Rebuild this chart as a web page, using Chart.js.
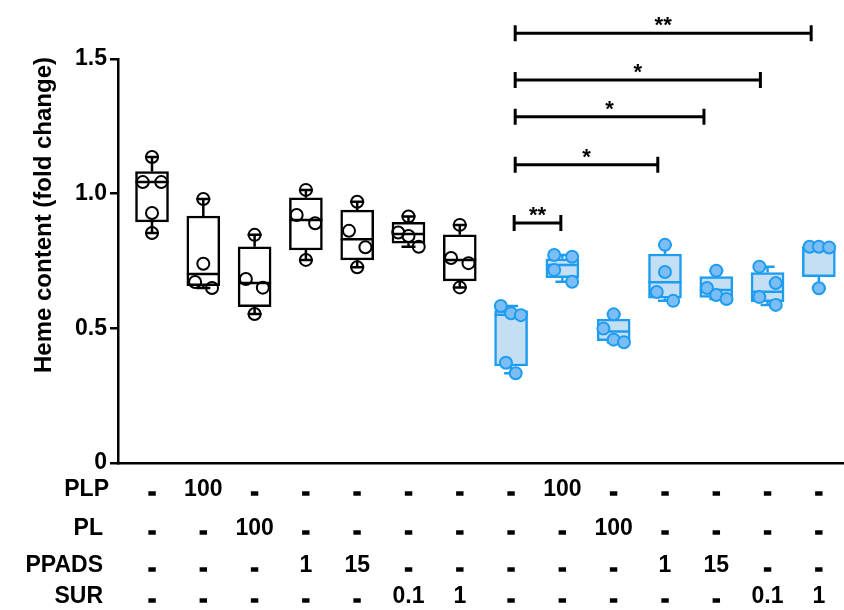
<!DOCTYPE html>
<html>
<head>
<meta charset="utf-8">
<script src="https://cdn.jsdelivr.net/npm/chart.js@4.4.1/dist/chart.umd.min.js"></script>
<style>
  html, body { margin: 0; padding: 0; background: #fff; }
</style>
</head>
<body>
<canvas id="chart-1" width="844" height="610"></canvas>
<script>
const FONT = "'Liberation Sans', Arial, Helvetica, sans-serif";

// one box per treatment group, numbered left to right
const groups = [1, 2, 3, 4, 5, 6, 7, 8, 9, 10, 11, 12, 13, 14];
const whiskerMin = [0.854, 0.650, 0.553, 0.754, 0.727, 0.803, 0.652, 0.333, 0.673, 0.448, 0.602, 0.609, 0.587, 0.649];
const quartile1 = [0.895, 0.658, 0.580, 0.791, 0.754, 0.816, 0.676, 0.360, 0.688, 0.454, 0.612, 0.615, 0.599, 0.692];
const medians = [1.043, 0.702, 0.668, 0.902, 0.831, 0.850, 0.754, 0.550, 0.735, 0.488, 0.671, 0.642, 0.636, 0.801];
const quartile3 = [1.082, 0.917, 0.803, 0.985, 0.939, 0.894, 0.847, 0.566, 0.758, 0.534, 0.776, 0.692, 0.707, 0.803];
const whiskerMax = [1.136, 0.980, 0.847, 1.014, 0.970, 0.915, 0.884, 0.583, 0.772, 0.552, 0.810, 0.714, 0.729, 0.803];

// individual measurements per group
const pointValues = [
  [1.136, 1.043, 1.043, 0.928, 0.854],
  [0.980, 0.740, 0.672, 0.650],
  [0.847, 0.683, 0.651, 0.553],
  [1.014, 0.921, 0.890, 0.754],
  [0.970, 0.862, 0.801, 0.727],
  [0.915, 0.856, 0.843, 0.803],
  [0.884, 0.761, 0.742, 0.652],
  [0.583, 0.556, 0.549, 0.372, 0.333],
  [0.772, 0.766, 0.717, 0.673],
  [0.552, 0.499, 0.458, 0.448],
  [0.810, 0.709, 0.635, 0.602],
  [0.714, 0.650, 0.624, 0.609],
  [0.729, 0.668, 0.616, 0.587],
  [0.803, 0.803, 0.800, 0.649],
];
// horizontal spread of the points inside a box (in group units)
const pointJitter = [
  [0, -0.18, 0.18, 0, 0],
  [0, 0, -0.16, 0.17],
  [0, -0.17, 0.16, 0],
  [0, -0.18, 0.18, 0],
  [0, -0.16, 0.16, 0],
  [0, -0.2, 0, 0.2],
  [0, -0.17, 0.17, 0],
  [-0.2, 0, 0.19, -0.1, 0.09],
  [-0.16, 0.19, -0.16, 0.19],
  [0, -0.2, 0, 0.2],
  [0, 0, -0.16, 0.16],
  [0, -0.18, 0, 0.2],
  [-0.16, 0.16, -0.16, 0.16],
  [-0.18, 0, 0.2, 0],
];
const firstBlueGroup = 8;

// treatment table under the axis
const rowNames = ["PLP", "PL", "PPADS", "SUR"];
const plpRow = ["-", "100", "-", "-", "-", "-", "-", "-", "100", "-", "-", "-", "-", "-"];
const plRow = ["-", "-", "100", "-", "-", "-", "-", "-", "-", "100", "-", "-", "-", "-"];
const ppadsRow = ["-", "-", "-", "1", "15", "-", "-", "-", "-", "-", "1", "15", "-", "-"];
const surRow = ["-", "-", "-", "-", "-", "0.1", "1", "-", "-", "-", "-", "-", "0.1", "1"];

const yTickLabels = ["0", "0.5", "1.0", "1.5"];

// significance brackets (ends in group units, as drawn)
const bracketFrom = [8.08, 8.08, 8.08, 8.08, 8.06];
const bracketTo = [13.85, 12.86, 11.76, 10.86, 8.97];
const bracketLevel = [1.596, 1.422, 1.286, 1.107, 0.891];
const bracketLabels = ["**", "*", "*", "*", "**"];

const BLACK = "#000000";
const BLUE = "#1E9DF0";
const BLUE_FILL = "#C4DEF4";
const BLUE_POINT = "#7BBDF4";
const BOX_W = 33;

const isBlue = (g) => g >= firstBlueGroup;

function pointsFor(filter) {
  const out = [];
  groups.forEach((g, i) => {
    if (!filter(g)) return;
    pointValues[i].forEach((v, j) => out.push({ x: g + pointJitter[i][j], y: v }));
  });
  return out;
}

const boxPlugin = {
  id: "boxExtras",
  afterDatasetDraw(chart, args) {
    if (args.index !== 0) return;
    const { ctx, scales: { x, y } } = chart;
    ctx.save();
    ctx.lineWidth = 2.5;
    groups.forEach((g, i) => {
      const cx = x.getPixelForValue(g);
      ctx.strokeStyle = isBlue(g) ? BLUE : BLACK;
      ctx.beginPath();
      // whiskers
      ctx.moveTo(cx, y.getPixelForValue(quartile3[i]));
      ctx.lineTo(cx, y.getPixelForValue(whiskerMax[i]));
      ctx.moveTo(cx, y.getPixelForValue(quartile1[i]));
      ctx.lineTo(cx, y.getPixelForValue(whiskerMin[i]));
      // caps
      ctx.moveTo(cx - 7, y.getPixelForValue(whiskerMax[i]));
      ctx.lineTo(cx + 7, y.getPixelForValue(whiskerMax[i]));
      ctx.moveTo(cx - 7, y.getPixelForValue(whiskerMin[i]));
      ctx.lineTo(cx + 7, y.getPixelForValue(whiskerMin[i]));
      // median
      ctx.moveTo(cx - BOX_W / 2, y.getPixelForValue(medians[i]));
      ctx.lineTo(cx + BOX_W / 2, y.getPixelForValue(medians[i]));
      ctx.stroke();
    });
    ctx.restore();
  },
  afterDraw(chart) {
    const { ctx, scales: { x, y } } = chart;
    ctx.save();
    ctx.fillStyle = BLACK;
    ctx.strokeStyle = BLACK;

    // y axis title
    ctx.save();
    ctx.translate(44, 215);
    ctx.rotate(-Math.PI / 2);
    ctx.font = "bold 24px " + FONT;
    ctx.textAlign = "center";
    ctx.textBaseline = "middle";
    ctx.fillText("Heme content (fold change)", 0, 0);
    ctx.restore();

    // treatment table
    const rows = [plpRow, plRow, ppadsRow, surRow];
    const baselines = [496, 535, 572, 603];
    const nameRight = [109, 103, 103, 103];
    ctx.font = "bold 23px " + FONT;
    ctx.textBaseline = "alphabetic";
    ctx.lineWidth = 1.6;
    rows.forEach((row, r) => {
      ctx.textAlign = "right";
      ctx.fillText(rowNames[r], nameRight[r], baselines[r]);
      ctx.textAlign = "center";
      row.forEach((t, i) => {
        const px = x.getPixelForValue(groups[i]);
        if (t === "-") {
          // the dashes sit low and heavy in the original
          ctx.fillText(t, px, baselines[r] + 4);
          ctx.strokeText(t, px, baselines[r] + 4);
        } else {
          ctx.fillText(t, px, baselines[r]);
        }
      });
    });

    // significance brackets
    ctx.lineWidth = 3;
    ctx.font = "bold 22px " + FONT;
    ctx.textAlign = "center";
    bracketLevel.forEach((lvl, k) => {
      const x0 = x.getPixelForValue(bracketFrom[k]);
      const x1 = x.getPixelForValue(bracketTo[k]);
      const yy = y.getPixelForValue(lvl);
      ctx.beginPath();
      ctx.moveTo(x0, yy);
      ctx.lineTo(x1, yy);
      ctx.moveTo(x0, yy - 8);
      ctx.lineTo(x0, yy + 8);
      ctx.moveTo(x1, yy - 8);
      ctx.lineTo(x1, yy + 8);
      ctx.stroke();
      ctx.fillText(bracketLabels[k], (x0 + x1) / 2, yy - 1);
    });
    ctx.restore();
  },
};

const canvas1 = document.getElementById("chart-1");
const chart1 = new Chart(canvas1.getContext("2d"), {
  type: "bar",
  data: {
    datasets: [
      {
        label: "boxes",
        data: groups.map((g, i) => ({ x: g, y: [quartile1[i], quartile3[i]] })),
        backgroundColor: groups.map((g) => (isBlue(g) ? BLUE_FILL : "#FFFFFF")),
        borderColor: groups.map((g) => (isBlue(g) ? BLUE : BLACK)),
        borderWidth: 2.5,
        borderSkipped: false,
        barThickness: BOX_W,
        order: 2,
      },
      {
        type: "scatter",
        label: "control",
        data: pointsFor((g) => !isBlue(g)),
        pointRadius: 6,
        pointBorderWidth: 2,
        pointBorderColor: BLACK,
        pointBackgroundColor: "rgba(255,255,255,0)",
        order: 1,
      },
      {
        type: "scatter",
        label: "treated",
        data: pointsFor(isBlue),
        pointRadius: 6,
        pointBorderWidth: 2,
        pointBorderColor: BLUE,
        pointBackgroundColor: BLUE_POINT,
        order: 1,
      },
    ],
  },
  plugins: [boxPlugin],
  options: {
    responsive: false,
    animation: false,
    layout: { autoPadding: false, padding: { top: 59, right: 0, left: 0, bottom: 0 } },
    plugins: {
      legend: { display: false },
      tooltip: { enabled: false },
    },
    scales: {
      x: {
        type: "linear",
        offset: false,
        min: 0.337,
        max: 14.49,
        ticks: { display: false },
        grid: { display: false },
        border: { display: true, color: BLACK, width: 2.5 },
        afterFit: (s) => { s.height = 147; },
      },
      y: {
        min: 0,
        max: 1.5,
        ticks: {
          stepSize: 0.5,
          padding: 3,
          color: BLACK,
          font: { family: FONT, size: 23, weight: "bold" },
          callback: (v) => yTickLabels[Math.round(v / 0.5)],
        },
        grid: {
          drawOnChartArea: false,
          drawTicks: true,
          tickLength: 8,
          color: BLACK,
          lineWidth: 2.5,
        },
        border: { color: BLACK, width: 2.5 },
        afterFit: (s) => { s.width = 118; },
      },
    },
  },
});
</script>
</body>
</html>
